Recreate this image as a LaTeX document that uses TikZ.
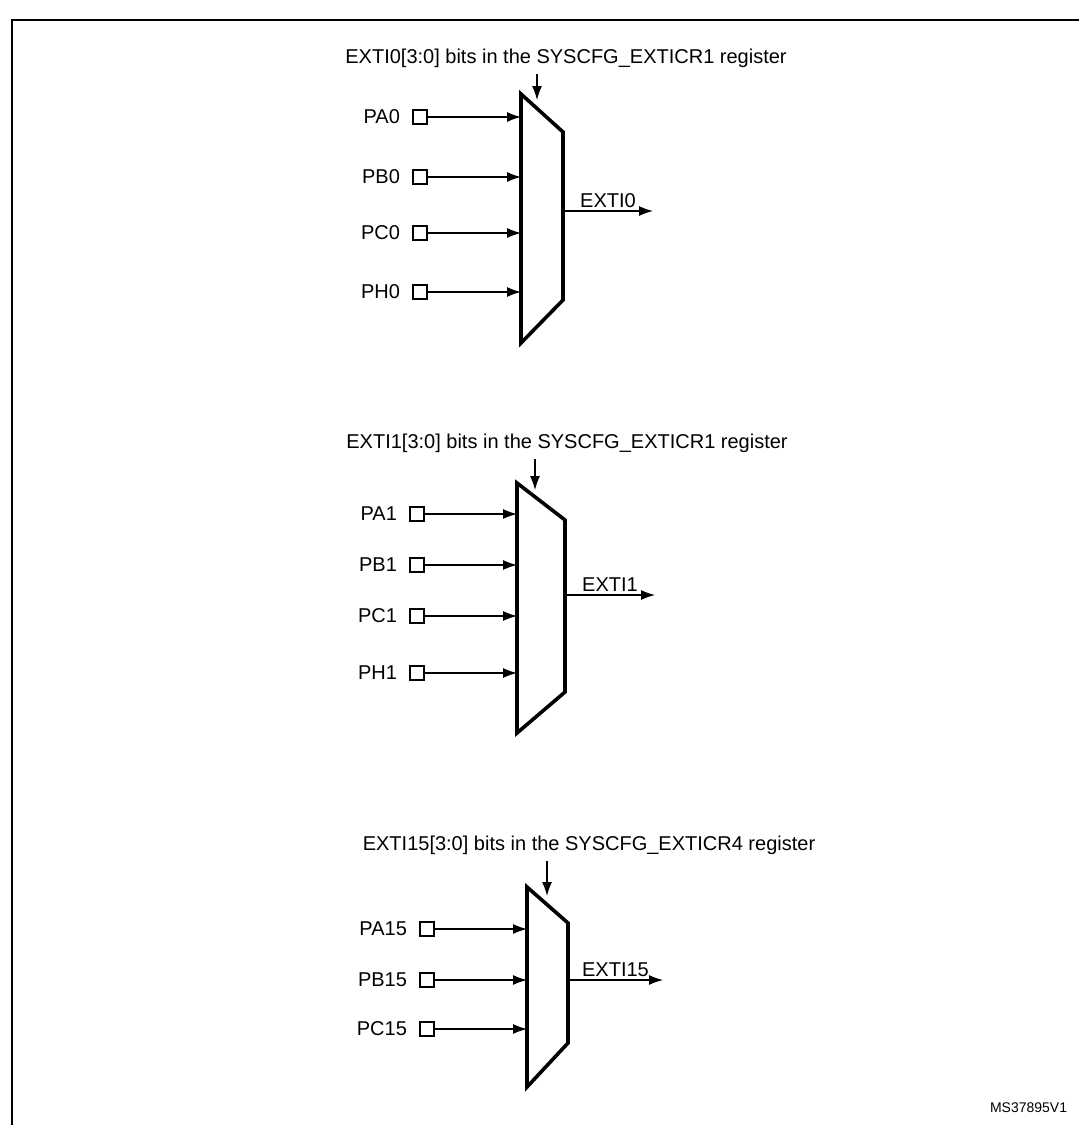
\documentclass[tikz,border=0pt]{standalone}
\usepackage{fontspec}
\setmainfont{Liberation Sans}
\usetikzlibrary{arrows.meta}

\tikzset{
    pin/.style={draw,thick,minimum size=7pt,inner sep=0pt,fill=white},
    muxline/.style={line width=1.8pt,line join=miter},
    sig/.style={line width=0.6pt,-{Latex[length=7pt,width=5pt]}},
    lbl/.style={font=\fontsize{10}{12}\selectfont}
}

\begin{document}
\begin{tikzpicture}[x=0.5pt,y=-0.5pt]
    \useasboundingbox (0,0) rectangle (1079,1125);
    \draw[line width=1pt] (1100,20) -- (12,20) -- (12,1140);

    % EXTI0
    \begin{scope}
        \draw[muxline] (521,94) -- (563,132) -- (563,300) -- (521,343) -- cycle;
        \node[lbl] (sel0) at (566,58) {EXTI0[3:0] bits in the SYSCFG\_EXTICR1 register};
        \coordinate (c0) at (537,100);
        \draw[sig] (sel0.south -| c0) -- (c0);
        \foreach \p/\y in {PA0/117,PB0/177,PC0/233,PH0/292} {
            \node[pin] (\p) at (420,\y) {};
            \node[lbl,anchor=east] (l\p) at (407,\y) {\p};
            \coordinate (i\p) at (521,\y);
            \draw[sig] (\p) -- (i\p);
        }
        \coordinate (o0) at (653,211);
        \draw[sig] (563,211) -- node[lbl,above,yshift=-2pt] {EXTI0} (o0);
    \end{scope}

    % EXTI1
    \begin{scope}
        \draw[muxline] (517,483) -- (565,520) -- (565,692) -- (517,733) -- cycle;
        \node[lbl] (sel1) at (567,443) {EXTI1[3:0] bits in the SYSCFG\_EXTICR1 register};
        \coordinate (c1) at (535,490);
        \draw[sig] (sel1.south -| c1) -- (c1);
        \foreach \p/\y in {PA1/514,PB1/565,PC1/616,PH1/673} {
            \node[pin] (\p) at (417,\y) {};
            \node[lbl,anchor=east] (l\p) at (404,\y) {\p};
            \coordinate (i\p) at (517,\y);
            \draw[sig] (\p) -- (i\p);
        }
        \coordinate (o1) at (655,595);
        \draw[sig] (565,595) -- node[lbl,above,yshift=-2pt] {EXTI1} (o1);
    \end{scope}

    % EXTI15
    \begin{scope}
        \draw[muxline] (527,887) -- (568,923) -- (568,1043) -- (527,1087) -- cycle;
        \node[lbl] (sel15) at (589,845) {EXTI15[3:0] bits in the SYSCFG\_EXTICR4 register};
        \coordinate (c15) at (547,896);
        \draw[sig] (sel15.south -| c15) -- (c15);
        \foreach \p/\y in {PA15/929,PB15/980,PC15/1029} {
            \node[pin] (\p) at (427,\y) {};
            \node[lbl,anchor=east] (l\p) at (414,\y) {\p};
            \coordinate (i\p) at (527,\y);
            \draw[sig] (\p) -- (i\p);
        }
        \coordinate (o15) at (663,980);
        \draw[sig] (568,980) -- node[lbl,above,yshift=-2pt] {EXTI15} (o15);
    \end{scope}

    \node[font=\fontsize{7}{8}\selectfont,anchor=west] (ref) at (983,1108) {MS37895V1};
\end{tikzpicture}
\end{document}
